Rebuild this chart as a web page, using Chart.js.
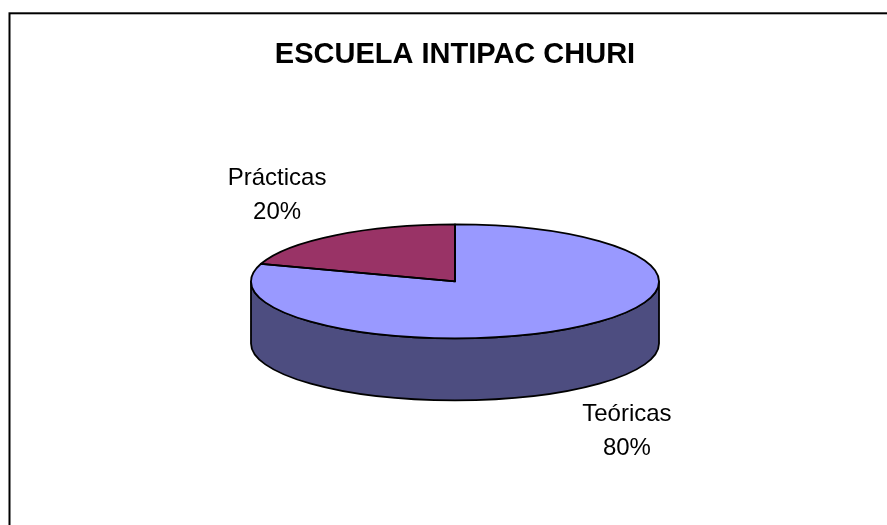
<!DOCTYPE html>
<html>
<head>
<meta charset="utf-8">
<script src="https://cdn.jsdelivr.net/npm/chart.js@4"></script>
<style>
    html, body {
        margin: 0;
        padding: 0;
        background: #fff;
    }
    #wrap {
        width: 887px;
        height: 525px;
    }
</style>
</head>
<body>
<div id="wrap">
    <canvas id="pieChart" width="887" height="525"></canvas>
</div>
<script>

const chartTitle = "ESCUELA INTIPAC CHURI";

const categories = ["Teóricas", "Prácticas"];

const values = [80, 20];

// estilos
const topColors = ["#9999FF", "#993366"];
const sideColors = ["#4D4D80", "#4D1933"];
const labelOffsets = [[52, 31], [-58, -50]];

const RADIUS = 204;
const TILT = 57 / 204;
const DEPTH = 62;
const FONT = "Arial, 'Liberation Sans', sans-serif";

const total = values.reduce((a, b) => a + b, 0);

function squash(ctx, cy) {
    ctx.translate(0, cy * (1 - TILT));
    ctx.scale(1, TILT);
}

const pie3d = {

    id: "pie3d",

    beforeDraw(chart) {

        const ctx = chart.ctx;

        ctx.save();
        ctx.fillStyle = "#fff";
        ctx.fillRect(0, 0, chart.width, chart.height);
        ctx.lineWidth = 2;
        ctx.strokeStyle = "#000";
        ctx.strokeRect(9.5, 13.3, chart.width + 50, chart.height + 50);
        ctx.restore();
    },

    beforeDatasetsDraw(chart) {

        const ctx = chart.ctx;
        const arcs = chart.getDatasetMeta(0).data;

        // pared lateral (solo la mitad de adelante)
        arcs.forEach((arc, i) => {

            const {x, y, startAngle, endAngle, outerRadius} = arc;

            [-2 * Math.PI, 0, 2 * Math.PI].forEach(shift => {

                const a0 = Math.max(startAngle + shift, 0);
                const a1 = Math.min(endAngle + shift, Math.PI);

                if (a1 <= a0) {
                    return;
                }

                ctx.save();
                squash(ctx, y);
                ctx.beginPath();
                ctx.arc(x, y, outerRadius, a0, a1);
                ctx.arc(x, y + DEPTH / TILT, outerRadius, a1, a0, true);
                ctx.closePath();
                ctx.restore();

                ctx.fillStyle = sideColors[i];
                ctx.fill();
                ctx.lineWidth = 1.8;
                ctx.strokeStyle = "#000";
                ctx.lineJoin = "round";
                ctx.stroke();
            });
        });

        const first = arcs[0];
        ctx.save();
        squash(ctx, first.y);
    },

    afterDatasetsDraw(chart) {

        const ctx = chart.ctx;
        const arcs = chart.getDatasetMeta(0).data;

        ctx.restore();

        // contornos de la cara superior
        arcs.forEach(arc => {

            const {x, y, startAngle, endAngle, outerRadius} = arc;

            ctx.save();
            squash(ctx, y);
            ctx.beginPath();
            ctx.moveTo(x, y);
            ctx.arc(x, y, outerRadius, startAngle, endAngle);
            ctx.closePath();
            ctx.restore();

            ctx.lineWidth = 1.8;
            ctx.strokeStyle = "#000";
            ctx.lineJoin = "round";
            ctx.stroke();
        });

        // etiquetas
        ctx.save();
        ctx.font = "24px " + FONT;
        ctx.fillStyle = "#000";
        ctx.textAlign = "center";
        ctx.textBaseline = "alphabetic";

        arcs.forEach((arc, i) => {

            const {x, y, startAngle, endAngle, outerRadius} = arc;
            const mid = (startAngle + endAngle) / 2;

            let px = x + Math.cos(mid) * outerRadius;
            let py = y + Math.sin(mid) * outerRadius * TILT;

            if (Math.sin(mid) > 0) {
                py += DEPTH;
            }

            px += labelOffsets[i][0];
            py += labelOffsets[i][1];

            const pct = Math.round(values[i] / total * 100) + "%";

            ctx.fillText(categories[i], px, py);
            ctx.fillText(pct, px, py + 34);
        });

        ctx.restore();
    }
};

new Chart(document.getElementById("pieChart"), {

    type: "pie",

    data: {

        labels: categories,

        datasets: [{

                data: values,

                backgroundColor: topColors,

                borderWidth: 0,

                radius: RADIUS,

                clip: false
            }]
    },

    options: {

        responsive: false,

        devicePixelRatio: 1,

        animation: false,

        events: [],

        layout: {
            padding: {
                left: 23,
                right: 0,
                top: 0,
                bottom: 35
            }
        },

        plugins: {

            legend: {
                display: false
            },

            tooltip: {
                enabled: false
            },

            title: {

                display: true,

                text: chartTitle,

                color: "#000",

                font: {
                    family: FONT,
                    size: 29,
                    weight: "bold",
                    lineHeight: 1.2
                },

                padding: {
                    top: 38,
                    bottom: 0
                }
            }
        }
    },

    plugins: [pie3d]
});
</script>
</body>
</html>
